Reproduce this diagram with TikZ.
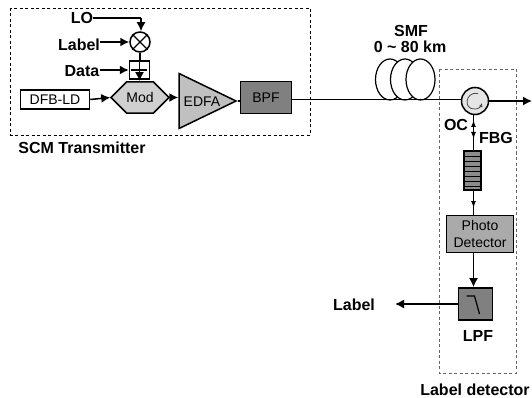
\documentclass[tikz,border=0pt]{standalone}
\usepackage{fontspec}
\setmainfont{Liberation Sans}
\usetikzlibrary{shapes.geometric, shapes.misc, arrows.meta, calc}
\definecolor{edfagray}{RGB}{192,192,192}
\definecolor{modgray}{RGB}{208,208,208}
\definecolor{filtgray}{RGB}{128,128,128}
\definecolor{detgray}{RGB}{170,170,170}
\tikzset{
    sig/.style={draw=black, line width=1.5pt, -{Latex[length=9pt,width=9pt]}},
    wire/.style={draw=black, line width=1.5pt},
    tinyarrow/.style={draw=black, line width=1.3pt, -{Latex[length=7pt,width=5pt]}},
    tag/.style={font=\bfseries\fontsize{16}{18}\selectfont, inner sep=0pt},
    boxtext/.style={font=\fontsize{14}{16}\selectfont, align=center},
    blockbox/.style={draw=black, line width=1.8pt, inner sep=0pt, boxtext},
    groupbox/.style={draw=black, line width=0.6pt, dash pattern=on 3pt off 2.5pt}
}
\begin{document}
\begin{tikzpicture}[x=1pt, y=-1pt]
\useasboundingbox (0,0) rectangle (532,398);

% dashed groups
\draw[groupbox] (10,8) rectangle (310,135);
\draw[groupbox, draw=black!60, line width=0.9pt] (439,69) rectangle (516,373);

% transmitter
\node[tag] (lo) at (82,18) {LO};
\node[tag] (labelin) at (79,45) {Label};
\node[tag] (data) at (82,71) {Data};
\node[tag] (scm) at (82,148) {SCM Transmitter};
\node[draw=black, line width=1.5pt, circle, minimum size=20pt, inner sep=0pt] (mixer) at (140,42) {};
\draw[line width=1.2pt] (mixer.north west) -- (mixer.south east) (mixer.north east) -- (mixer.south west);
\node[draw=black, line width=1.5pt, minimum width=20pt, minimum height=18pt, inner sep=0pt] (adder) at (139.5,70) {};
\draw[line width=1.2pt] (adder.north) ++(0,2) -- ++(0,14) (adder.west) ++(2,0) -- ++(16,0);
\node[blockbox, line width=1.5pt, minimum width=69pt, minimum height=19pt] (laser) at (55,99.5) {DFB-LD};
\node[draw=black, line width=1.5pt, fill=modgray, chamfered rectangle, chamfered rectangle xsep=12pt,
    chamfered rectangle ysep=10.5pt, minimum width=58pt, minimum height=21pt, inner sep=0pt, boxtext] (mod) at (140,97.5) {Mod};
\node[draw=black, line width=1.5pt, fill=edfagray, isosceles triangle, isosceles triangle stretches,
    minimum width=55pt, minimum height=57pt, inner sep=0pt, anchor=apex] (amp) at (238,101) {};
\node[boxtext, inner sep=0pt] (edfa) at (202,102) {EDFA};
\node[blockbox, fill=filtgray, minimum width=51pt, minimum height=32pt] (bpf) at (266,97.5) {BPF};

\coordinate (lobend) at (141,18);
\draw[wire] (lo.east) -- (lobend);
\draw[sig] (lobend) -- (lobend |- mixer.north);
\draw[sig] (labelin.east |- mixer.west) -- (mixer.west);
\draw[sig] (data.east |- adder.west) -- (adder.west);
\draw[wire] (mixer.south) -- (mixer.south |- adder.north);
\draw[sig] (adder.south) -- (adder.south |- mod.north);
\draw[sig] (laser.east) -- (mod.west);
\draw[sig] (mod.east) -- (amp.left corner |- mod.east);
\draw[wire] (amp.apex) -- (bpf.west |- amp.apex);

% fibre coil
\foreach \cx in {390,405,420.5} {
    \draw[line width=1.2pt, fill=white] (\cx,79.5) ellipse (14.5pt and 20.5pt);
}
\node[tag] (smf) at (411,31) {SMF};
\node[tag] (km) at (410,47) {0 \textasciitilde{} 80 km};

% label detector
\node[draw=black, line width=1.5pt, fill=black!10, circle, minimum size=27pt, inner sep=0pt] (oc) at (475,101) {};
\draw[black!70, line width=0.8pt, -{Latex[length=4pt,width=4pt]}] (478,93.5) .. controls (465,91) and (463,110) .. (475,109) .. controls (479,109) and (481,106) .. (482,103);
\coordinate (outend) at (532,101);
\draw[wire] (bpf.east |- 0,99.5) -- (oc.west |- 0,99.5);
\draw[sig] (oc.east) -- (outend);
\node[tag] (oclabel) at (456,125) {OC};
\node[tag] (fbglabel) at (496,138) {FBG};

\node[draw=black, line width=1.2pt, fill=black!45, minimum width=17pt, minimum height=39pt, inner sep=0pt] (fbg) at (472.5,170.5) {};
\foreach \gy in {156,161,166,171,176,181,186} {
    \draw[line width=0.8pt] (fbg.west |- 0,\gy) -- (fbg.east |- 0,\gy);
}
\coordinate (uptip) at (473.5,120);
\coordinate (dntip) at (473.5,139);
\coordinate (midfbg) at (473.5,130);
\coordinate (pdtip) at (473.5,208);
\draw[wire] (midfbg |- oc.south) -- (midfbg |- fbg.north);
\draw[tinyarrow] (midfbg) -- (uptip);
\draw[tinyarrow] (midfbg) -- (dntip);

\node[blockbox, fill=detgray, minimum width=67pt, minimum height=37pt, font=\fontsize{14}{17.5}\selectfont] (pd) at (480,234) {Photo\\Detector};
\node[blockbox, fill=filtgray, minimum width=34pt, minimum height=32pt] (lpf) at (475.5,304) {};
\draw[line width=1.2pt] ($(lpf.center)+(-9,-8)$) -- ++(8,0) -- ++(5,18);
\node[tag] (lpflabel) at (478,336) {LPF};
\node[tag] (labelout) at (354,305) {Label};
\node[tag] (det) at (475,390) {Label detector};
\coordinate (labelend) at (395,304);

\draw[wire] (midfbg |- fbg.south) -- (midfbg |- pd.north);
\draw[tinyarrow] (midfbg |- 0,198) -- (pdtip);
\draw[sig] (midfbg |- pd.south) -- (midfbg |- lpf.north);
\draw[sig] (lpf.west) -- (labelend);
\end{tikzpicture}
\end{document}
